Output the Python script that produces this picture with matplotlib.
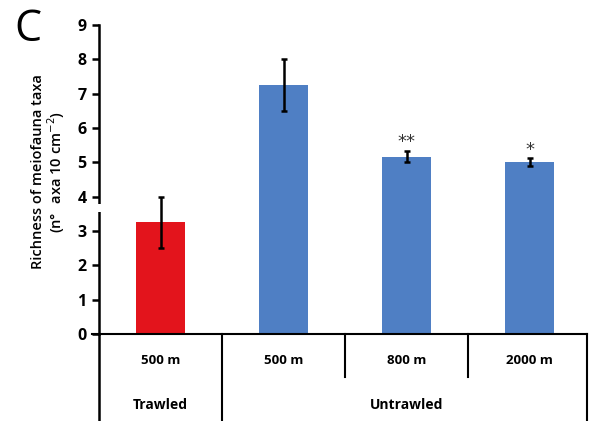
import numpy as np
import matplotlib
matplotlib.use("Agg")
import matplotlib.pyplot as plt
import matplotlib.transforms as mtransforms
from matplotlib.patches import Rectangle

# Data
sites = ["500 m", "500 m", "800 m", "2000 m"]
groups = ["Trawled", "Untrawled"]
richness = [3.25, 7.25, 5.15, 5.0]
err_low = [0.75, 0.75, 0.15, 0.1]
err_high = [0.75, 0.75, 0.18, 0.12]
stars = ["", "", "**", "*"]
colors = ["#E3141C", "#4F7FC4", "#4F7FC4", "#4F7FC4"]

W, H = 597, 421
fig = plt.figure(figsize=(W / 100, H / 100), dpi=100)
ax = fig.add_axes([99 / W, (H - 334) / H, (591 - 99) / W, (334 - 25) / H])

x = np.arange(len(richness))
ax.bar(x, richness, width=0.4, color=colors, zorder=2)
ax.errorbar(x, richness, yerr=[err_low, err_high], fmt="none",
            ecolor="black", elinewidth=1.8, capsize=2.5, capthick=1.8, zorder=3)
for xi, yi, eh, s in zip(x, richness, err_high, stars):
    if s:
        ax.text(xi, yi + eh + 0.25, s, ha="center", va="center",
                fontsize=13, color="#333333", family="DejaVu Sans")

ax.set_xlim(-0.5, 3.5)
ax.set_ylim(0, 9)
ax.set_yticks(range(10))
ax.set_yticklabels([str(i) for i in range(10)], family="Open Sans",
                   fontweight="bold", fontsize=11.5)
ax.tick_params(axis="y", direction="out", length=5, width=1.8, pad=4)
ax.set_xticks([])
for side in ["top", "right", "bottom"]:
    ax.spines[side].set_visible(False)
ax.spines["left"].set_linewidth(1.8)

# table-style category labels below the axis
tr = mtransforms.blended_transform_factory(ax.transData, ax.transAxes)
lw = 1.5
ax.plot([-0.56, 3.47], [0, 0], color="black", lw=lw, transform=tr,
        clip_on=False, zorder=4)
ybot = -(H - 334) / 309
yshort = -(377 - 334) / 309
ax.plot([-0.5, -0.5], [0, ybot], color="black", lw=1.8, transform=tr, clip_on=False)
ax.plot([0.5, 0.5], [0, ybot], color="black", lw=lw, transform=tr, clip_on=False)
ax.plot([1.5, 1.5], [0, yshort], color="black", lw=lw, transform=tr, clip_on=False)
ax.plot([2.5, 2.5], [0, yshort], color="black", lw=lw, transform=tr, clip_on=False)
ax.plot([3.47, 3.47], [0, ybot], color="black", lw=lw, transform=tr, clip_on=False)

row1 = -(361 - 334) / 309
row2 = -(405 - 334) / 309
for xi, s in zip(x, sites):
    ax.text(xi, row1, s, transform=tr, ha="center", va="center",
            fontsize=9.5, fontweight="bold", family="Open Sans")
ax.text(0, row2, groups[0], transform=tr, ha="center", va="center",
        fontsize=10, fontweight="bold", family="Open Sans")
ax.text(2, row2, groups[1], transform=tr, ha="center", va="center",
        fontsize=10, fontweight="bold", family="Open Sans")

# y label, two lines
fig.text(38 / W, 1 - 172 / H, "Richness of meiofauna taxa", rotation=90,
         ha="center", va="center", fontsize=10.5, family="Open Sans",
         fontweight="semibold")
fig.text(56 / W, 1 - 172 / H, "(n° taxa 10 cm$^{-2}$)", rotation=90,
         ha="center", va="center", fontsize=10.5, family="Open Sans",
         fontweight="semibold")

# white band that cuts through the axis in the original
fig.patches.append(Rectangle((45 / W, 1 - 212 / H), (102 - 45) / W, 8 / H,
                             transform=fig.transFigure, facecolor="white",
                             edgecolor="none", zorder=10))

fig.text(28 / W, 1 - 30 / H, "C", ha="center", va="center", fontsize=31,
         family="Open Sans")

fig.savefig("out.png", dpi=100)
